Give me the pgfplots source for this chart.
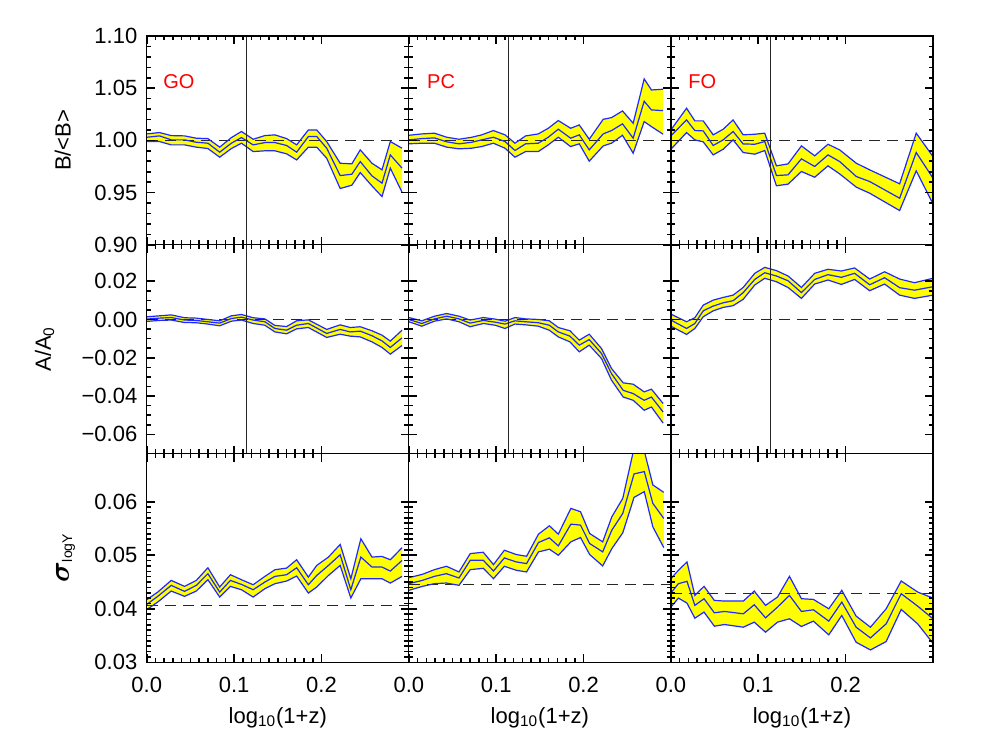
\documentclass[border=0pt]{standalone}
\usepackage{bm}
\usepackage{fontspec}
\setmainfont{Liberation Sans}
\usepackage{pgfplots}
\usepackage{pgfplotstable}
\pgfplotsset{compat=1.18}
\usepgfplotslibrary{groupplots,fillbetween}
\definecolor{bandfill}{RGB}{255,255,0}
\definecolor{bandline}{RGB}{30,40,255}
\definecolor{lblred}{RGB}{255,0,0}

% columns: x, upper edge, median, lower edge
\pgfplotstableread{
x hi mid lo
0.000 1.0062 1.0030 0.9989
0.0146 1.0075 1.0043 0.9989
0.028 1.0046 1.0005 0.9957
0.0433 1.0043 1.0005 0.9957
0.0567 1.0021 0.9982 0.9935
0.070 1.0017 0.9973 0.9922
0.0835 0.9935 0.9887 0.9839
0.0969 1.0027 0.9973 0.9922
0.1084 1.0085 1.0027 0.9973
0.1218 1.0011 0.9957 0.9893
0.1352 1.0046 0.9979 0.9900
0.1467 1.0053 0.9979 0.9900
0.1601 1.0017 0.9951 0.9871
0.1716 0.9957 0.9887 0.9813
0.185 1.0100 1.0037 0.9935
0.1946 1.0100 1.0037 0.9935
0.206 0.9989 0.9925 0.9829
0.2214 0.9781 0.9663 0.9539
0.2348 0.9775 0.9676 0.9571
0.2444 0.9909 0.9797 0.9692
0.2578 0.9781 0.9660 0.9564
0.2693 0.9718 0.9590 0.9462
0.2788 0.9989 0.9861 0.9734
0.2922 0.9925 0.9734 0.9504
}\goB
\pgfplotstableread{
x hi mid lo
0.000 1.0049 1.0005 0.9967
0.0149 1.0062 1.0017 0.9973
0.0293 1.0069 1.0024 0.9973
0.0434 1.0030 0.9986 0.9935
0.0575 1.0011 0.9967 0.9919
0.072 1.0030 0.9982 0.9925
0.0834 1.0053 1.0005 0.9941
0.0968 1.0094 1.0030 0.9973
0.1101 1.0053 0.9989 0.9925
0.1215 0.9973 0.9903 0.9839
0.1337 1.0043 0.9967 0.9893
0.1482 1.0062 0.9973 0.9893
0.1596 1.0116 1.0030 0.9957
0.1711 1.0190 1.0107 1.0030
0.1852 1.0116 1.0021 0.9941
0.1951 1.0148 1.0053 0.9967
0.2065 1.0011 0.9909 0.9801
0.2225 1.0202 1.0062 0.9947
0.232 1.0218 1.0094 0.9973
0.2446 1.0282 1.0158 1.0049
0.2568 1.0164 1.0021 0.9877
0.2694 1.0589 1.0375 1.0180
0.2777 1.0483 1.0292 1.0132
0.2911 1.0490 1.0285 1.0059
}\pcB
\pgfplotstableread{
x hi mid lo
0.000 1.0100 1.0043 0.9915
0.0179 1.0308 1.0196 1.0075
0.0274 1.0187 1.0094 1.0005
0.037 1.0187 1.0091 0.9986
0.0484 1.0053 0.9951 0.9861
0.0598 1.0107 1.0005 0.9915
0.0712 1.0196 1.0085 1.0005
0.0827 1.0053 0.9966 0.9884
0.096 1.0059 0.9963 0.9868
0.1074 1.0069 0.9989 0.9903
0.1208 0.9756 0.9663 0.9565
0.1341 0.9775 0.9670 0.9581
0.1494 0.9947 0.9823 0.9702
0.1646 0.9852 0.9750 0.9647
0.1798 0.9963 0.9861 0.9756
0.1932 0.9909 0.9797 0.9679
0.2122 0.9781 0.9654 0.9552
0.2275 0.9718 0.9606 0.9494
0.2618 0.9584 0.9446 0.9328
0.2808 1.0069 0.9884 0.9708
0.300 0.9845 0.9638 0.9392
}\foB
\pgfplotstableread{
x hi mid lo
0.000 0.0014 0.0002 -0.0010
0.0146 0.0019 0.0007 -0.0005
0.028 0.0024 0.0010 -0.0003
0.0433 0.0009 -0.0003 -0.0016
0.0567 0.0007 -0.0005 -0.0017
0.070 0.0000 -0.0012 -0.0024
0.0835 -0.0007 -0.0019 -0.0033
0.0969 0.0019 0.0005 -0.0009
0.1084 0.0026 0.0012 -0.0003
0.1218 0.0009 -0.0003 -0.0021
0.1352 0.0003 -0.0012 -0.0030
0.1467 -0.0031 -0.0047 -0.0065
0.1601 -0.0037 -0.0056 -0.0075
0.1716 -0.0007 -0.0030 -0.0049
0.185 -0.0002 -0.0021 -0.0042
0.206 -0.0052 -0.0073 -0.0094
0.2214 -0.0028 -0.0052 -0.0077
0.2329 -0.0042 -0.0065 -0.0087
0.2444 -0.0038 -0.0061 -0.0091
0.2578 -0.0059 -0.0085 -0.0117
0.2693 -0.0082 -0.0112 -0.0146
0.2788 -0.0113 -0.0146 -0.0181
0.2922 -0.0056 -0.0096 -0.0136
}\goA
\pgfplotstableread{
x hi mid lo
0.000 0.0010 0.0000 -0.0012
0.0149 -0.0007 -0.0021 -0.0035
0.0293 0.0017 0.0003 -0.0009
0.0434 0.0031 0.0017 0.0003
0.0575 0.0017 0.0003 -0.0012
0.0701 -0.0003 -0.0019 -0.0038
0.0853 0.0010 -0.0005 -0.0021
0.0987 0.0002 -0.0014 -0.0030
0.1101 -0.0009 -0.0024 -0.0047
0.1215 0.0010 -0.0007 -0.0024
0.1337 0.0003 -0.0012 -0.0028
0.1482 0.0000 -0.0017 -0.0035
0.1608 -0.0007 -0.0030 -0.0056
0.1711 -0.0042 -0.0065 -0.0091
0.1844 -0.0059 -0.0087 -0.0117
0.1951 -0.0108 -0.0134 -0.0169
0.2065 -0.0077 -0.0105 -0.0134
0.2206 -0.0152 -0.0178 -0.0204
0.232 -0.0256 -0.0283 -0.0317
0.2454 -0.0331 -0.0370 -0.0405
0.2568 -0.0338 -0.0387 -0.0422
0.2694 -0.0378 -0.0422 -0.0474
0.2777 -0.0364 -0.0405 -0.0457
0.2911 -0.0439 -0.0483 -0.0541
}\pcA
\pgfplotstableread{
x hi mid lo
0.000 0.0028 -0.0003 -0.0035
0.0179 -0.0012 -0.0047 -0.0078
0.0274 0.0009 -0.0021 -0.0047
0.037 0.0075 0.0045 0.0014
0.0484 0.0101 0.0070 0.0045
0.0598 0.0115 0.0087 0.0063
0.0712 0.0127 0.0098 0.0072
0.0827 0.0167 0.0140 0.0105
0.096 0.0241 0.0209 0.0180
0.1074 0.0272 0.0244 0.0215
0.1208 0.0255 0.0227 0.0197
0.1341 0.0227 0.0202 0.0167
0.1494 0.0167 0.0140 0.0110
0.1646 0.0241 0.0209 0.0185
0.1798 0.0262 0.0234 0.0206
0.1951 0.0253 0.0220 0.0183
0.2103 0.0269 0.0241 0.0209
0.2275 0.0211 0.0181 0.0150
0.2446 0.0249 0.0218 0.0185
0.2618 0.0211 0.0166 0.0127
0.2789 0.0192 0.0153 0.0110
0.300 0.0215 0.0171 0.0127
}\foA
\pgfplotstableread{
x hi mid lo
0.000 0.04169 0.04082 0.03983
0.0126 0.04312 0.04232 0.04126
0.028 0.04530 0.04437 0.04331
0.0433 0.04418 0.04325 0.04232
0.0567 0.04530 0.04437 0.04331
0.070 0.04766 0.04655 0.04543
0.0835 0.04406 0.04312 0.04219
0.0958 0.04636 0.04530 0.04418
0.1084 0.04543 0.04455 0.04356
0.1218 0.04449 0.04356 0.04219
0.1352 0.04605 0.04499 0.04375
0.1467 0.04729 0.04605 0.04468
0.1601 0.04760 0.04636 0.04518
0.1716 0.04916 0.04766 0.04611
0.185 0.04592 0.04449 0.04294
0.1946 0.04810 0.04623 0.04406
0.208 0.04966 0.04810 0.04623
0.2214 0.05202 0.05009 0.04810
0.2336 0.04561 0.04356 0.04201
0.2451 0.05308 0.04966 0.04561
0.2578 0.04966 0.04779 0.04561
0.2693 0.04978 0.04779 0.04561
0.2788 0.04916 0.04704 0.04480
0.2922 0.05140 0.04903 0.04605
}\goS
\pgfplotstableread{
x hi mid lo
0.000 0.04581 0.04469 0.04344
0.0156 0.04644 0.04531 0.04419
0.0293 0.04731 0.04606 0.04469
0.043 0.04794 0.04656 0.04481
0.0574 0.04688 0.04575 0.04438
0.0703 0.05031 0.04906 0.04731
0.0852 0.05056 0.04906 0.04756
0.0969 0.04825 0.04706 0.04563
0.1094 0.05094 0.04950 0.04794
0.123 0.05013 0.04875 0.04719
0.1348 0.04981 0.04844 0.04688
0.1484 0.05394 0.05238 0.05063
0.1609 0.05550 0.05325 0.05113
0.1711 0.05394 0.05175 0.05000
0.1855 0.05875 0.05581 0.05250
0.1965 0.05813 0.05563 0.05331
0.207 0.05406 0.05219 0.05013
0.2219 0.05250 0.05063 0.04800
0.2324 0.05719 0.05469 0.05125
0.2449 0.06063 0.05781 0.05419
0.2578 0.07000 0.06519 0.06081
0.2695 0.06950 0.06563 0.06188
0.2793 0.06313 0.05969 0.05531
0.2918 0.06175 0.05688 0.05144
}\pcS
\pgfplotstableread{
x hi mid lo
0.000 0.04563 0.04294 0.04031
0.0086 0.04719 0.04469 0.04200
0.0184 0.04875 0.04513 0.04106
0.0274 0.04250 0.04063 0.03825
0.0379 0.04419 0.04188 0.03938
0.0497 0.04156 0.03925 0.03675
0.0614 0.04144 0.03950 0.03706
0.0829 0.04144 0.03906 0.03656
0.0954 0.04331 0.04075 0.03750
0.1083 0.04063 0.03831 0.03563
0.122 0.04219 0.04031 0.03750
0.1357 0.04606 0.04250 0.03813
0.1494 0.04188 0.03950 0.03669
0.1631 0.04175 0.03981 0.03769
0.1807 0.04000 0.03769 0.03513
0.1956 0.04344 0.04125 0.03875
0.212 0.03863 0.03656 0.03375
0.2284 0.03656 0.03456 0.03231
0.2464 0.04000 0.03719 0.03388
0.2636 0.04519 0.04281 0.03988
0.2824 0.04313 0.04050 0.03719
0.300 0.04200 0.03813 0.03356
}\foS

\newcommand{\band}[2]{%
  \addplot[draw=none,forget plot,name path=h#2] table[x=x,y=hi]{#1};
  \addplot[draw=none,forget plot,name path=l#2] table[x=x,y=lo]{#1};
  \addplot[bandfill,forget plot] fill between[of=h#2 and l#2];
  \addplot[bline] table[x=x,y=hi]{#1};
  \addplot[bline] table[x=x,y=mid]{#1};
  \addplot[bline] table[x=x,y=lo]{#1};}

\tikzset{tag/.style={lblred,font=\fontsize{10}{12}\selectfont,anchor=center}}
\pgfplotsset{
  bline/.style={bandline,line width=0.6pt},
  refdash/.style={black!85,line width=0.6pt,dash pattern=on 5.5pt off 3.5pt},
  refvert/.style={black!85,line width=0.6pt},
  panel/.style={scale only axis,width=131pt,height=104.35pt,axis on top,
    scaled x ticks=false,scaled y ticks=false,
    xmin=0,xmax=0.3,xtick={0,0.1,0.2},xticklabels={},minor x tick num=9,
    tick align=inside,major tick length=4pt,minor tick length=2.2pt,
    axis line style={line width=0.65pt},
    tick style={black,line width=0.8pt},
    tick label style={font=\fontsize{11}{13}\selectfont},
    label style={font=\fontsize{11}{13}\selectfont},
    xticklabel style={yshift=-4pt},yticklabel style={xshift=-1.2pt},
    xlabel style={at={(axis description cs:0.5,-0.264)},anchor=center},
    ylabel style={anchor=center}},
  rowB/.style={ymin=0.9,ymax=1.1,ytick={0.9,0.95,1,1.05,1.1},minor y tick num=4,yticklabels={}},
  rowA/.style={ymin=-0.07,ymax=0.039,ytick={-0.06,-0.04,-0.02,0,0.02},minor y tick num=3,yticklabels={}},
  rowS/.style={ymin=0.03,ymax=0.069,ytick={0.03,0.04,0.05,0.06},minor y tick num=9,yticklabels={}},
  bottom/.style={xticklabels={0.0,0.1,0.2},xlabel={log\textsubscript{10}(1+z)}}
}

\begin{document}
\begin{tikzpicture}
\begin{groupplot}[group style={group size=3 by 3,horizontal sep=0pt,vertical sep=0pt,group name=G},panel]
% row 1: B/<B>
\nextgroupplot[rowB,yticklabels={0.90,0.95,1.00,1.05,1.10},ylabel={B/<B>},
  ylabel style={at={(axis description cs:-0.32,0.5)}}]
\addplot[refdash] coordinates {(0,1) (0.3,1)};
\band{\goB}{ga}
\addplot[refvert] coordinates {(0.114,0.9) (0.114,1.1)};
\node[tag] at (rel axis cs:0.123,0.78) {GO};
\nextgroupplot[rowB]
\addplot[refdash] coordinates {(0,1) (0.3,1)};
\band{\pcB}{pa}
\addplot[refvert] coordinates {(0.114,0.9) (0.114,1.1)};
\node[tag] at (rel axis cs:0.123,0.78) {PC};
\nextgroupplot[rowB]
\addplot[refdash] coordinates {(0,1) (0.3,1)};
\band{\foB}{fa}
\addplot[refvert] coordinates {(0.114,0.9) (0.114,1.1)};
\node[tag] at (rel axis cs:0.12,0.78) {FO};
% row 2: A/A0
\nextgroupplot[rowA,yticklabels={−0.06,−0.04,−0.02,0.00,0.02},ylabel={A/A\textsubscript{0}},
  ylabel style={at={(axis description cs:-0.39,0.5)}}]
\addplot[refdash] coordinates {(0,0) (0.3,0)};
\band{\goA}{gb}
\addplot[refvert] coordinates {(0.114,-0.07) (0.114,0.039)};
\nextgroupplot[rowA]
\addplot[refdash] coordinates {(0,0) (0.3,0)};
\band{\pcA}{pb}
\addplot[refvert] coordinates {(0.114,-0.07) (0.114,0.039)};
\nextgroupplot[rowA]
\addplot[refdash] coordinates {(0,0) (0.3,0)};
\band{\foA}{fb}
\addplot[refvert] coordinates {(0.114,-0.07) (0.114,0.039)};
% row 3: scatter
\nextgroupplot[rowS,bottom,yticklabels={0.03,0.04,0.05,0.06},
  ylabel={{\fontsize{15}{15}\selectfont$\bm{\sigma}$}\textsubscript{\scriptsize logY}},
  ylabel style={at={(axis description cs:-0.31,0.5)}}]
\addplot[refdash] coordinates {(0,0.0406) (0.3,0.0406)};
\band{\goS}{gc}
\nextgroupplot[rowS,bottom]
\addplot[refdash] coordinates {(0,0.04456) (0.3,0.04456)};
\band{\pcS}{pc}
\nextgroupplot[rowS,bottom]
\addplot[refdash] coordinates {(0,0.0428) (0.3,0.0428)};
\band{\foS}{fc}
\end{groupplot}
\pgfresetboundingbox
\path[use as bounding box] ([xshift=-73.35pt,yshift=18pt]G c1r1.north west) rectangle ([xshift=24pt,yshift=-37pt]G c3r3.south east);
\end{tikzpicture}
\end{document}
